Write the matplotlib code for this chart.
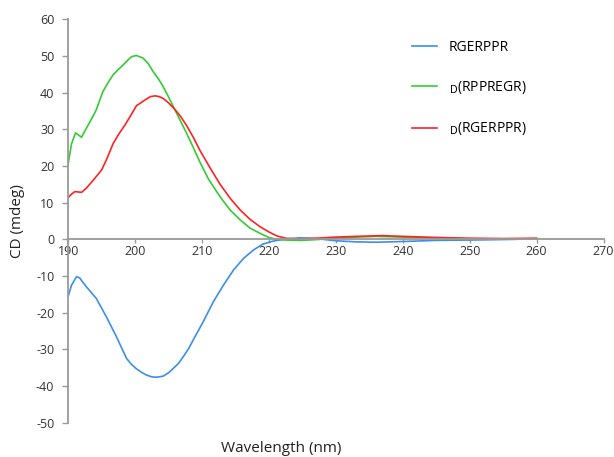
import numpy as np
import matplotlib
matplotlib.use("Agg")
import matplotlib.pyplot as plt

plt.rcParams['font.family'] = ['Open Sans', 'DejaVu Sans']
plt.rcParams['axes.unicode_minus'] = False  # 原图用的是普通连字符 "-10"

# 数据：CD 光谱 (波长 nm, CD mdeg)
wlBlue = [190, 190.5, 191.25, 191.7, 192.7, 194.2, 195.7, 197.2, 198.7, 199.4,
          200.2, 201.0, 201.7, 202.5, 203.2, 204.2, 205.0, 205.7, 206.5, 207.2,
          208.0, 208.7, 210.2, 211.7, 213.2, 214.7, 216.2, 217.7, 219.1, 220.6,
          222.6, 224.5, 226, 228, 230, 233, 236, 240, 245, 250, 254, 257]
cdBlue = [-15.6, -12.5, -10.2, -10.5, -12.9, -16.1, -21.1, -26.5, -32.4, -34.0,
          -35.3, -36.3, -37.0, -37.5, -37.6, -37.3, -36.4, -35.2, -33.8, -32.0,
          -29.8, -27.4, -22.4, -17.0, -12.5, -8.4, -5.2, -2.9, -1.3, -0.5,
          0.1, 0.4, 0.3, 0.0, -0.4, -0.7, -0.8, -0.6, -0.3, -0.2, -0.1, 0.0]

wlGreen = [190, 190.5, 191.1, 191.5, 192.0, 192.7, 193.7, 194.2, 195.2, 196.0,
           196.7, 197.5, 198.2, 199.0, 199.5, 200.2, 201.2, 202.0, 202.7, 203.5,
           204.2, 205.0, 205.9, 206.8, 207.7, 208.7, 209.7, 211.0, 212.7, 214.2,
           215.7, 217.2, 218.7, 220.0, 221.2, 222.5, 224.7, 227, 230, 233,
           236, 240, 245, 250, 255, 260]
cdGreen = [20.5, 26.0, 29.0, 28.5, 27.8, 30.2, 33.5, 35.3, 40.3, 42.8,
           44.8, 46.3, 47.5, 49.0, 49.8, 50.1, 49.4, 47.8, 45.7, 43.7,
           41.6, 38.8, 35.5, 32.2, 28.9, 25.0, 21.0, 16.3, 11.6, 8.0,
           5.3, 3.0, 1.6, 0.5, 0.0, -0.2, -0.3, -0.1, 0.3, 0.6,
           0.8, 0.6, 0.3, 0.1, 0.1, 0.1]

wlRed = [190, 190.5, 191, 192, 192.7, 193.7, 195.0, 195.8, 196.7, 197.5,
         198.5, 199.4, 200.2, 201.5, 202.3, 203.0, 203.6, 204.2, 205.0, 205.9,
         206.8, 207.7, 208.7, 209.7, 211.2, 212.7, 214.2, 215.7, 217.2, 218.7,
         220.0, 221.2, 222.5, 224, 227, 230, 233, 237, 240, 245,
         250, 255, 260]
cdRed = [11.4, 12.3, 13.0, 12.8, 13.9, 16.0, 18.9, 22.0, 26.0, 28.5,
         31.2, 33.9, 36.4, 38.0, 38.9, 39.1, 38.9, 38.4, 37.2, 35.5,
         33.5, 31.0, 27.8, 24.2, 19.5, 15.0, 11.2, 8.0, 5.4, 3.4,
         2.0, 0.9, 0.3, 0.1, 0.3, 0.6, 0.8, 1.0, 0.8, 0.5,
         0.3, 0.2, 0.3]

labels = ["RGERPPR", r"$_{\mathrm{D}}$(RPPREGR)", r"$_{\mathrm{D}}$(RGERPPR)"]
colors = ["#3b8fea", "#33cc33", "#ff2222"]
xTicks = [190, 200, 210, 220, 230, 240, 250, 260, 270]
yTicks = [-50, -40, -30, -20, -10, 0, 10, 20, 30, 40, 50, 60]


def main():
    fig = plt.figure(figsize=(6.14, 4.57), dpi=100, facecolor='white')
    ax = fig.add_axes([0.111, 0.075, 0.872, 0.883])

    ax.plot(wlBlue, cdBlue, color=colors[0], lw=1.2, label=labels[0])
    ax.plot(wlGreen, cdGreen, color=colors[1], lw=1.2, label=labels[1])
    ax.plot(wlRed, cdRed, color=colors[2], lw=1.2, label=labels[2])

    ax.set_xlim(190, 270)
    ax.set_ylim(-50, 60)
    ax.set_xticks(xTicks)
    ax.set_yticks(yTicks)

    # 坐标轴样式：x 轴放在 y=0 处
    for s in ['top', 'right']:
        ax.spines[s].set_visible(False)
    ax.spines['bottom'].set_position(('data', 0))
    for s in ['left', 'bottom']:
        ax.spines[s].set_color('#9a9a9a')
        ax.spines[s].set_linewidth(1.3)
    ax.tick_params(axis='x', direction='out', length=3, width=1, color='#9a9a9a',
                   pad=1, labelsize=9, labelcolor='#333333')
    ax.tick_params(axis='y', direction='out', length=4, width=1, color='#9a9a9a',
                   pad=6, labelsize=9, labelcolor='#333333')

    ax.set_xlabel("Wavelength (nm)", fontsize=11, color='#222222')
    ax.xaxis.set_label_coords(0.398, -0.045)
    ax.set_ylabel("CD (mdeg)", fontsize=11, color='#222222')
    ax.yaxis.set_label_coords(-0.08, 0.5)

    ax.legend(loc='upper left', bbox_to_anchor=(0.618, 0.98), frameon=False,
              fontsize=10, handlelength=1.8, handletextpad=0.9, labelspacing=1.75)

    fig.savefig("out.png", dpi=100)


if __name__ == '__main__':
    main()
